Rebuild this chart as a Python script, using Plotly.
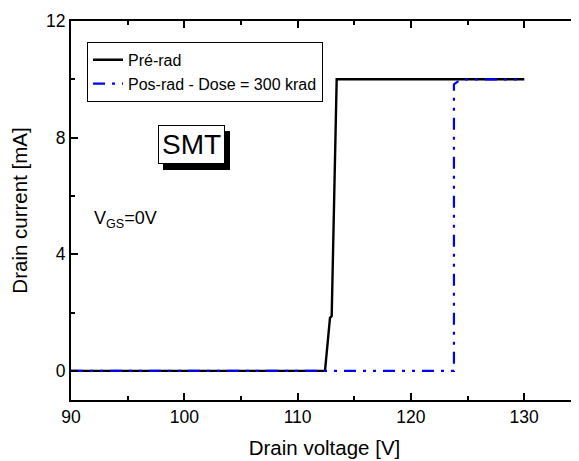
import plotly.graph_objects as go

# Data
pre_x = [90, 112.42, 112.86, 113.01, 113.45, 130]
pre_y = [0, 0, 1.82, 1.88, 10, 10]
pos_x = [90, 123.8, 123.8, 124.45, 130]
pos_y = [0, 0, 9.83, 10, 10]

x_range = [90, 134.75]
y_range = [-1, 12]
FONT = "Liberation Sans, Arial, sans-serif"

fig = go.Figure()
fig.add_trace(go.Scatter(x=pre_x, y=pre_y, mode="lines", name="Pré-rad",
                         line=dict(color="black", width=2.4)))
fig.add_trace(go.Scatter(x=pos_x, y=pos_y, mode="lines",
                         name="Pos-rad - Dose = 300 krad",
                         line=dict(color="#0000FF", width=2.2,
                                   dash="12px,7px,3px,7px,3px,7px")))

axis_common = dict(showgrid=False, zeroline=False, showline=True, linecolor="black",
                   linewidth=2, mirror="ticks", ticks="inside", ticklen=7, tickwidth=2,
                   tickcolor="black", automargin=False,
                   tickfont=dict(size=17.5, color="black", family=FONT))

fig.update_xaxes(range=x_range, tick0=90, dtick=10,
                 minor=dict(ticks="inside", dtick=5, ticklen=4, tickwidth=2, tickcolor="black"),
                 title=dict(text="Drain voltage [V]", font=dict(size=20.5, color="black", family=FONT),
                            standoff=15),
                 **axis_common)
fig.update_yaxes(range=y_range, tick0=0, dtick=4,
                 minor=dict(ticks="inside", dtick=2, ticklen=4, tickwidth=2, tickcolor="black"),
                 title=dict(text="Drain current [mA]", font=dict(size=20.5, color="black", family=FONT),
                            standoff=15),
                 **axis_common)

# SMT box with shadow
fig.add_annotation(x=100.63, y=7.77, xref="x", yref="y", text="SMT", showarrow=False,
                   font=dict(size=28, color="black", family=FONT), bgcolor="black",
                   bordercolor="black", borderwidth=1, borderpad=3, xshift=5, yshift=-6)
fig.add_annotation(x=100.63, y=7.77, xref="x", yref="y", text="SMT", showarrow=False,
                   font=dict(size=28, color="black", family=FONT), bgcolor="white",
                   bordercolor="black", borderwidth=1, borderpad=3)
fig.add_annotation(x=91.85, y=5.2, xref="x", yref="y", xanchor="left",
                   text="V<sub>GS</sub>=0V", showarrow=False,
                   font=dict(size=18, color="black", family=FONT))

fig.update_layout(
    width=571, height=453,
    margin=dict(l=63, r=1, t=13, b=61, autoexpand=False),
    paper_bgcolor="white", plot_bgcolor="white",
    font=dict(family=FONT, color="black"),
    showlegend=True,
    legend=dict(x=0.0316, y=0.945, xanchor="left", yanchor="top",
                bgcolor="white", bordercolor="black", borderwidth=1,
                font=dict(size=16, color="black", family=FONT),
                tracegroupgap=0, itemwidth=30),
)

fig.write_html("out.html")
